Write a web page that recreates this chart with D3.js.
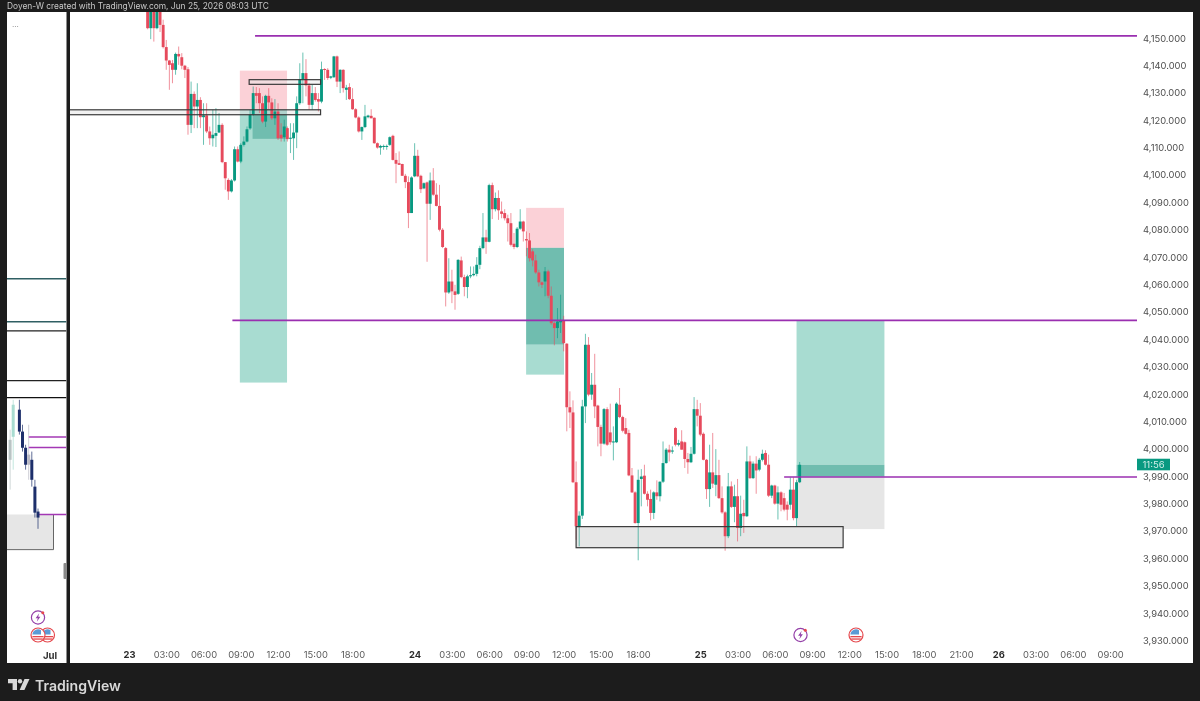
<!DOCTYPE html>
<html><head><meta charset="utf-8">
<script src="https://cdn.jsdelivr.net/npm/d3@7"></script>
<style>html,body{margin:0;background:#1c1c1c}svg{display:block;filter:blur(.45px)}text{font-family:Inter,"Noto Sans",sans-serif}</style>
</head><body><div id="c"></div>
<script>
// 15-minute candles, first bar = index 6 after the 23rd's session open
const firstBar = 6;
const opens = [4163,4153.4,4163,4153.4,4163,4154.6,4146.5,4141.6,4140.6,4138.2,
4144,4142.8,4139.7,4138.4,4118.1,4129.4,4124.8,4127.2,4120.9,4121.6,
4115.7,4113.2,4114.1,4115.3,4118.1,4104.5,4098,4093.8,4097.8,4109.2,
4104.7,4110.8,4112,4116.8,4121.8,4129.7,4129.7,4126,4119.3,4128.7,
4126.3,4120.5,4123,4114.5,4113.6,4116.9,4113.1,4113.2,4115.3,4126,
4134.8,4137,4132.5,4125.4,4129.7,4127.5,4126.6,4138.5,4138.2,4135.3,
4135.5,4143.1,4133.9,4138.2,4130.9,4131.9,4127.5,4123.8,4120.8,4115.7,
4117.3,4120.9,4121.4,4120.7,4111.4,4109.8,4110.2,4110.2,4110.8,4114.1,
4105.3,4104.1,4103.8,4099.5,4097.2,4085.9,4099.3,4106.8,4099.5,4094.9,
4097.1,4089.3,4097.8,4092.6,4088.5,4079.8,4073.1,4056.9,4060.9,4057.3,
4056.4,4068.6,4062.5,4058.9,4062.8,4063.2,4063.7,4067,4073.1,4077,
4075.4,4096.1,4087.3,4091.4,4086.5,4085.9,4084,4082.2,4074.7,4073.5,
4080.2,4082.8,4076.4,4075.9,4071.9,4068.6,4064.2,4060.6,4060.9,4064.6,
4055.7,4045.7,4043.9,4046,4046.7,4038.2,4015,4013.1,3987.6,3971.5,
3975.4,4015.3,4037.8,4019.6,4023.2,4015.6,4007.8,4001.7,4014.3,4005.8,
4002.2,4002.2,4015.9,4011.4,4007.4,4005.6,3990.1,3983.9,3972.7,3988.8,
3990,3983.4,3981.5,3976.4,3983.9,3982.5,3987.8,3994.6,3999.5,3998.8,
4007.4,4001.3,4002.5,4002.2,3996.1,3994.9,3998,4014.3,4011.9,4005.3,
3995.8,3985.1,3991.2,3986.7,3990.2,3981.8,3976.6,3967.9,3986.1,3978.6,
3982.5,3970.9,3976.4,3975.2,3995.2,3989.1,3994.4,3992.2,3995.8,3998.3,
3994,3982.7,3986.4,3979.8,3983.9,3981.8,3979.4,3979.4,3984.9,3974.5,3987.6];
const closes = [4153.4,4163,4153.4,4163,4154.6,4146.5,4141.6,4140,4138.2,4144,
4143.1,4139.7,4138.2,4118.1,4129.4,4124.8,4127.2,4120.9,4121.6,4115.7,
4113.2,4114.5,4115.1,4118.1,4104.5,4098.6,4093.8,4097.8,4109.2,4104.7,
4110.8,4112,4116.5,4121.8,4129.7,4128.7,4126,4119.3,4128.7,4126.3,
4120.5,4123,4113.2,4113.2,4117.5,4112.9,4113.4,4115.3,4126,4134.8,
4137,4132.5,4125.4,4129.7,4127.2,4126.6,4138.4,4138.2,4135.2,4135.8,
4143.1,4133.9,4138.2,4131.5,4131.7,4127.5,4123.8,4120.8,4115.7,4117.3,
4121.2,4121.5,4120.5,4111.4,4109.8,4110.4,4110.4,4110.4,4113.6,4105.3,
4103.9,4103.5,4099.5,4097.2,4085.9,4098.9,4106.8,4099.3,4094.6,4096.8,
4089.3,4097.8,4092.6,4088.5,4079.8,4073.5,4056.9,4060.9,4057.3,4056,
4068.8,4062.5,4058.9,4062.8,4063.2,4063.7,4067,4073.1,4077,4075.4,
4096.1,4087.3,4091.4,4086.9,4085.6,4084,4082.2,4074.3,4073.5,4080.2,
4082.8,4079.2,4075.9,4069.4,4068.6,4064.2,4060.6,4059.7,4064.6,4055.7,
4045.7,4043.9,4046.3,4046.7,4038.4,4015,4013.1,3987.6,3971.5,3975.4,
4015.3,4037.8,4019.6,4023.2,4015.3,4007.8,4001.7,4014.3,4001.3,4002.2,
4002.5,4016.3,4011.4,4006.4,4005.3,3990.1,3983.9,3972.7,3988.5,3989.7,
3983.4,3981.2,3976.4,3983.9,3982.5,3987.8,3994.6,3999.5,3998.5,3999.2,
4001.3,4001.9,3999.5,3996.1,3994.9,3998,4014.3,4011.9,4005,3995.8,
3985.1,3991.2,3987.1,3990.2,3981.8,3976.6,3967.9,3986.1,3978.6,3982.5,
3970.9,3976.1,3975.2,3995.2,3989.1,3994.4,3991.9,3995.8,3998,3994,
3982.7,3986.4,3979.8,3983.9,3979.4,3977.6,3977.6,3984.9,3974.5,3987.6,3994];
const highs = [4170,4166,4168,4167,4166,4156.5,4149.1,4141.8,4141.8,4144.5,
4146.7,4144.3,4140,4139.2,4133.9,4130.3,4133.3,4128.2,4126,4126,
4117.5,4123.6,4124.2,4122.4,4118.7,4104.5,4098.6,4098.3,4110.2,4110.2,
4111.4,4113.9,4117.5,4123.6,4132.1,4131.9,4131.5,4128.5,4129.1,4131.5,
4127.8,4127.5,4126,4118.7,4120,4117.5,4118.7,4118.7,4128.5,4140.6,
4144.5,4142.1,4133.3,4132.7,4131.9,4129.7,4141.2,4138.8,4138.8,4136,
4143.3,4143.4,4138.4,4138.4,4132.7,4133.3,4131.5,4124.2,4121.2,4117.5,
4125.4,4121.8,4123.8,4120.8,4111.7,4110.8,4110.9,4110.9,4113.9,4114.5,
4107.8,4108.4,4103.9,4100.2,4099.3,4099.3,4111.4,4109,4099.9,4097.1,
4097.4,4100.7,4102.3,4096.8,4096.2,4080.4,4073.5,4069.4,4065.2,4059.7,
4069.1,4070,4063.4,4063.4,4066.4,4066.4,4069.8,4073.95,4085.9,4079.8,
4096.6,4097,4093.4,4094.2,4090.1,4087.3,4085.3,4085.9,4078.6,4080.8,
4087.3,4083.1,4079.2,4078.6,4072.7,4070.7,4065.2,4060.9,4066.2,4065.2,
4059.1,4046.3,4051.2,4056.1,4048.4,4038.4,4020.8,4017.5,3995.2,3977,
4017.7,4041.8,4040.6,4027.5,4034.5,4015.9,4008.6,4014.7,4015,4016.3,
4008,4016.8,4022,4011.9,4011,4006.8,3992.8,3984.3,3992.2,3992.4,
3994,3984.3,3984.9,3984.3,3988.3,3987.9,4002.5,4000.1,4001.3,4000.7,
4007.8,4003.1,4006.6,4002.5,3998.3,4000.5,4018.7,4017.7,4016.5,4005.8,
3996.1,4001.3,4005.6,3999.7,3995.8,3986.1,3977,3991,3987.9,3986.7,
3988.8,3982.7,3981.2,4000.7,3997.3,3995.2,3997.1,3996.5,3999.5,3999.3,
3997.7,3986.7,3986.7,3986.1,3984.3,3983.7,3980.6,3989.4,3989.4,3988.5,3995];
const lows = [4153,4149.4,4148.5,4153,4152,4146,4138.2,4130.9,4133.3,4136.4,
4140,4138.4,4135.2,4114.5,4115.1,4116.9,4116.9,4116.9,4110.8,4115.1,
4110.8,4110.2,4110,4115.1,4104.1,4094.4,4090.7,4093.4,4097.4,4104.4,
4104.1,4110.2,4111.7,4116.3,4121.4,4126,4122.4,4118.7,4117.3,4123.6,
4119.9,4118.1,4112.6,4112,4112,4112,4107.8,4105.3,4109.6,4125.4,
4126,4128.5,4123.6,4123.6,4126.6,4123,4126,4134.5,4134.5,4134.8,
4135.2,4131.9,4129.7,4129.9,4127.2,4127.2,4123.6,4120.5,4115.3,4112.6,
4116.9,4120.5,4120.5,4111.2,4109.4,4107.2,4109,4109,4110.4,4105.1,
4096.8,4103.5,4099.5,4095,4080.4,4085.9,4099,4099,4093.2,4094.6,
4068.1,4083.4,4092.2,4088.3,4079.2,4073.1,4051.8,4056.4,4053,4050.6,
4056,4062.1,4055.5,4054.8,4062.1,4062.8,4062.8,4065.4,4072.7,4071,
4075.2,4083.7,4086.5,4083.4,4084,4083.2,4075.5,4073.7,4072.7,4073.1,
4079.8,4075.5,4070.1,4068.2,4066.4,4063.7,4059.1,4058.5,4055.5,4054.8,
4045.1,4037.6,4040.2,4042.1,4035.4,4006.2,4007.4,3987.3,3966.6,3964.2,
3974.2,4009.2,4019,4017.7,4011,4000.7,3997.1,4001.3,4000.9,4001.3,
3995.6,4001.9,4011,4005.8,4005,3989.8,3983.7,3972.5,3959.1,3978.8,
3983.1,3978.8,3973.7,3974.2,3981.2,3980.6,3987.3,3994.4,3995.2,3998,
4000.7,4000.7,3999.5,3992.8,3990.7,3994.6,3997.7,4008,4004.4,3995.6,
3981.5,3978.6,3985.5,3982.5,3981.5,3976.1,3962.6,3967.2,3978.2,3973,
3966,3967.9,3969.1,3974.9,3988.8,3988.8,3983.4,3991.6,3995.2,3993.7,
3982.2,3981.8,3979.4,3974,3977,3977,3973.7,3977.6,3973.7,3971.5,3987.3];

const priceTicks = [4150,4140,4130,4120,4110,4100,4090,4080,4070,4060,4050,4040,4030,4020,4010,4000,3990,3980,3970,3960,3950,3940,3930];
const timeTickBars = [0,12,24,36,48,60,72,92,104,116,128,140,152,164,184,196,208,220,232,244,256,268,280,292,304,316];
const timeTickLabels = ["23","03:00","06:00","09:00","12:00","15:00","18:00","24","03:00","06:00","09:00","12:00","15:00","18:00","25","03:00","06:00","09:00","12:00","15:00","18:00","21:00","26","03:00","06:00","09:00"];
const dayLabels = ["23","24","25","26"];

// [bar start, bar end, price top, price bottom, colour key]
const zoneBars = [
 [35.7,50.9,4137.9,4123.6,"pink"],[35.7,50.9,4123.6,4024,"teal"],[39.8,50.9,4123.6,4113,"tealDark"],
 [127.9,140.1,4087.8,4073.2,"pink"],[127.9,140.1,4073.2,4037.8,"tealDark"],[127.9,140.1,4037.8,4026.9,"teal"],
 [215,243.3,4046.8,3994,"teal"],[215,243.3,3994,3989.6,"tealDark"],[215,243.3,3989.6,3970.5,"grey"]];
const outlinedBoxes = [[-22,61.7,4123.6,4121.8,.55],[38.7,61.7,4134.6,4132.9,.45],[144,230,3971.4,3963.7,1]];
const levelLines = [[40.6,4150.6],[33.3,4046.7],[211,3989.5]];
const levelEndBar = 324.7;
const lastPrice = 3994, timer = "11:56";

// left mini panel
const miniLines = [[4061.9,"#2f5f63"],[4046.2,"#2f5f63"],[4042.9,"#222"],[4024.7,"#222"],[4018.5,"#111"]];
const miniLevels = [[7,4004.1],[7,4000.3],[10,3975.8]];
const miniBox = [3975.8,3963];
const miniBars = [1,2,4,5,6,7,8,9,10];
const miniOpen = [4003.1,4004.2,4014.1,4006.1,4000.2,3997.7,3995.8,3986,3976.9];
const miniClose = [3995.8,4015.9,4006.1,4000.2,3994,3994,3988.5,3976.5,3974.7];
const miniHigh = [4006.8,4017.7,4017.7,4008.6,4001.3,4008.6,3998.8,3988.5,3978];
const miniLow = [3984.9,3992.2,4005,3998.8,3992.2,3988.5,3986,3974.7,3970.6];
const miniColor = ["#b9c4c4","#a8dcd1","#1d2f6b","#1d2f6b","#1d2f6b","#b9b9c4","#1d2f6b","#1d2f6b","#1d2f6b"];

const W=1200,H=701;
const svg=d3.select("#c").append("svg").attr("width",W).attr("height",H);
const y=d3.scaleLinear().domain([4150,3930]).range([37.5,640]);
const x=d3.scaleLinear().domain([0,184]).range([129,700.3]);
const mx=d3.scaleLinear().domain([0,10]).range([7,38]);
const colors={pink:"#fbd1d7",teal:"#a8dcd1",tealDark:"#70bdaf",grey:"#e6e6e6"};
const UP="#089981",DOWN="#e64a5c";

svg.append("rect").attr("width",W).attr("height",H).attr("fill","#1c1c1c");
svg.append("rect").attr("x",7).attr("y",12).attr("width",59.5).attr("height",651).attr("fill","#fff");
svg.append("rect").attr("x",70).attr("y",12).attr("width",1123).attr("height",651).attr("fill","#fff");
const defs=svg.append("defs");
defs.append("clipPath").attr("id","main").append("rect").attr("x",70).attr("y",12).attr("width",1067).attr("height",651);
defs.append("clipPath").attr("id","mini").append("rect").attr("x",7).attr("y",12).attr("width",59.5).attr("height",651);

svg.append("text").attr("x",7).attr("y",8.8).attr("font-size",8.4).attr("fill","#c8c8c8").text("Doyen-W created with TradingView.com, Jun 25, 2026 08:03 UTC");

// mini panel
const m=svg.append("g").attr("clip-path","url(#mini)");
m.selectAll("line.ml").data(miniLines).join("line").attr("x1",7).attr("x2",66.5).attr("y1",d=>y(d[0])).attr("y2",d=>y(d[0])).attr("stroke",d=>d[1]).attr("stroke-width",1.3);
m.append("path").attr("d",`M7 ${y(miniBox[0])}H${mx(15)}V${y(miniBox[1])}H7Z`).attr("fill","#e6e6e6");
m.append("path").attr("d",`M${mx(15)} ${y(miniBox[0])}V${y(miniBox[1])}H7`).attr("fill","none").attr("stroke","#666").attr("stroke-width",1);
m.selectAll("line.lv").data(miniLevels).join("line").attr("x1",d=>mx(d[0])).attr("x2",66.5).attr("y1",d=>y(d[1])).attr("y2",d=>y(d[1])).attr("stroke","#a338b5").attr("stroke-width",1.5);
miniBars.forEach((b,i)=>{
 m.append("line").attr("x1",mx(b)).attr("x2",mx(b)).attr("y1",y(miniHigh[i])).attr("y2",y(miniLow[i])).attr("stroke",miniColor[i]).attr("stroke-width",1).attr("opacity",.7);
 m.append("rect").attr("x",mx(b)-1.5).attr("width",3).attr("y",y(Math.max(miniOpen[i],miniClose[i]))).attr("height",Math.abs(y(miniOpen[i])-y(miniClose[i]))).attr("fill",miniColor[i]);
});
m.append("text").attr("x",12).attr("y",27).attr("font-size",8).attr("fill","#777").text("...");
svg.append("rect").attr("x",63.5).attr("y",563).attr("width",3).attr("height",16).attr("rx",1).attr("fill","#8a8a8a");
svg.append("text").attr("x",50).attr("y",658.5).attr("text-anchor","middle").attr("font-size",9.6).attr("font-weight",700).attr("fill","#333").text("Jul");

// main panel
const p=svg.append("g").attr("clip-path","url(#main)");
p.selectAll("rect.zone").data(zoneBars).join("rect")
 .attr("x",d=>x(d[0])).attr("width",d=>x(d[1])-x(d[0])).attr("y",d=>y(d[2])).attr("height",d=>y(d[3])-y(d[2])).attr("fill",d=>colors[d[4]]);
p.selectAll("rect.boxfill").data(outlinedBoxes).join("rect")
 .attr("x",d=>x(d[0])).attr("width",d=>x(d[1])-x(d[0])).attr("y",d=>y(d[2])).attr("height",d=>y(d[3])-y(d[2]))
 .attr("fill",d=>`rgba(230,230,230,${d[4]})`);

const bars=opens.map((o,i)=>({b:firstBar+i,o,c:closes[i],h:highs[i],l:lows[i]}));
p.selectAll("line.w").data(bars).join("line")
 .attr("x1",d=>x(d.b)).attr("x2",d=>x(d.b)).attr("y1",d=>y(d.h)).attr("y2",d=>y(d.l))
 .attr("stroke",d=>d.c>=d.o?UP:DOWN).attr("stroke-width",1).attr("opacity",.6);
p.selectAll("rect.b").data(bars).join("rect")
 .attr("x",d=>x(d.b)-1.45).attr("width",2.9)
 .attr("y",d=>y(Math.max(d.o,d.c))).attr("height",d=>Math.max(1,Math.abs(y(d.o)-y(d.c))))
 .attr("fill",d=>d.c>=d.o?UP:DOWN);

p.selectAll("rect.boxline").data(outlinedBoxes).join("rect")
 .attr("x",d=>x(d[0])).attr("width",d=>x(d[1])-x(d[0])).attr("y",d=>y(d[2])).attr("height",d=>y(d[3])-y(d[2]))
 .attr("fill","none").attr("stroke","#3a3a3a").attr("stroke-width",1.2);
p.selectAll("line.level").data(levelLines).join("line")
 .attr("x1",d=>x(d[0])).attr("x2",x(levelEndBar)).attr("y1",d=>y(d[1])).attr("y2",d=>y(d[1]))
 .attr("stroke","#9a2fb0").attr("stroke-width",1.6);

// axes
const ya=svg.append("g").attr("transform","translate(1143,0.5)").call(d3.axisRight(y).tickValues(priceTicks).tickFormat(d3.format(",.3f")).tickSize(0).tickPadding(0));
ya.select(".domain").remove();
ya.selectAll("text").attr("font-size",9.4).attr("fill","#4d4d4d").style("font-family","Inter,sans-serif");
const xa=svg.append("g").attr("transform","translate(0,651.5)").call(d3.axisBottom(x).tickValues(timeTickBars).tickFormat((d,i)=>timeTickLabels[i]).tickSize(0).tickPadding(0));
xa.select(".domain").remove();
xa.selectAll("text").attr("font-size",9.4).attr("fill",(d,i)=>dayLabels.includes(timeTickLabels[i])?"#2a2a2a":"#5a5a5a").attr("font-weight",(d,i)=>dayLabels.includes(timeTickLabels[i])?700:400).style("font-family","Inter,sans-serif");

// price tag
svg.append("rect").attr("x",1137).attr("y",y(lastPrice)-6).attr("width",33).attr("height",11.6).attr("fill","#089981");
svg.append("text").attr("x",1153.5).attr("y",y(lastPrice)+3.4).attr("text-anchor","middle").attr("font-size",9.5).attr("fill","#cfeee8").text(timer);

// event icons
function bolt(cx,cy){const g=svg.append("g").attr("transform",`translate(${cx},${cy})`);
 g.append("circle").attr("r",6.6).attr("fill","#fff").attr("stroke","#9440a8").attr("stroke-width",1.2);
 g.append("path").attr("d","M1.2 -4.2L-2.4 .8H-.2L-1.2 4.2L2.4 -.8H.2Z").attr("fill","#9440a8");
 g.append("circle").attr("cx",4.8).attr("cy",-4.8).attr("r",1.5).attr("fill","#e5484d");}
function flag(cx,cy){const g=svg.append("g").attr("transform",`translate(${cx},${cy})`);
 g.append("circle").attr("r",7).attr("fill","#fff").attr("stroke","#e5484d").attr("stroke-width",1.2);
 g.append("path").attr("d","M-5.6 -.5A5.6 5.6 0 0 1 3 -4.8L3 -.5Z").attr("fill","#5b9bd5");
 g.append("rect").attr("x",-5.6).attr("y",1).attr("width",11.2).attr("height",1.3).attr("fill","#e5484d");
 g.append("rect").attr("x",-4.8).attr("y",3.4).attr("width",9.6).attr("height",1.3).attr("fill","#e5484d");}
bolt(800.5,635);flag(856,635);bolt(38,617.5);flag(47.5,635);flag(38,635);

// footer logo
const lg=svg.append("g").attr("fill","#d9d9d9");
lg.append("path").attr("d","M8 679H17V690H12.6V683.2H8Z");
lg.append("circle").attr("cx",20).attr("cy",681.2).attr("r",2.2);
lg.append("path").attr("d","M24.5 679H29.5L24.4 690H19.6Z");
svg.append("text").attr("x",35).attr("y",690.5).attr("font-size",14.1).attr("font-weight",600).attr("fill","#d9d9d9").text("TradingView");
</script></body></html>
